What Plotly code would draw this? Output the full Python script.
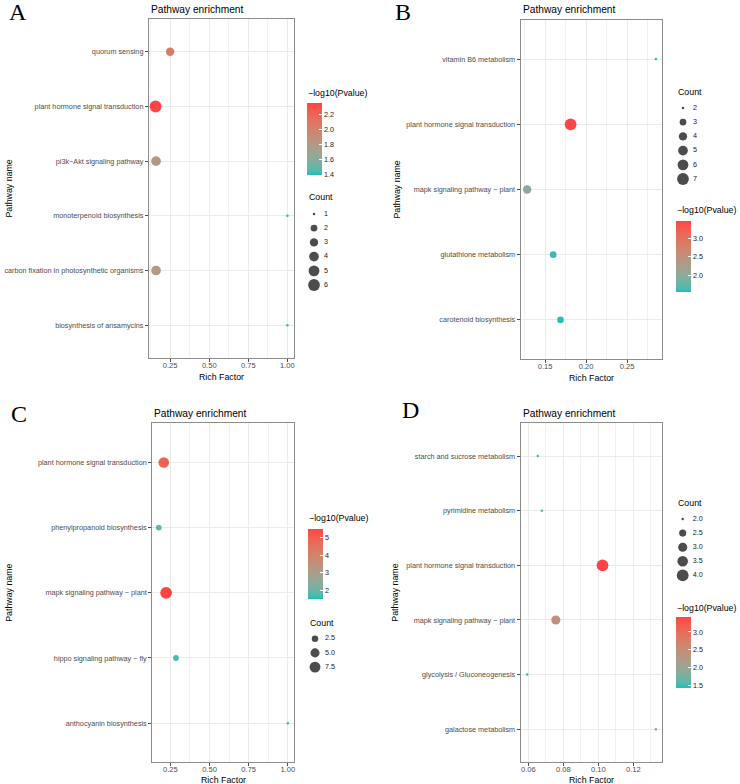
import numpy as np
import plotly.graph_objects as go

W, H = 740, 784

# ------------------------------------------------------------------ data
A_pathways = ["quorum sensing", "plant hormone signal transduction", "pi3k−Akt signaling pathway",
              "monoterpenoid biosynthesis", "carbon fixation in photosynthetic organisms",
              "biosynthesis of ansamycins"]
A_rich = [0.25, 0.157, 0.16, 1.0, 0.16, 1.0]
A_logp = [2.05, 2.36, 1.80, 1.39, 1.80, 1.39]
A_count = [3, 6, 4, 1, 4, 1]
A_count_breaks = [1, 2, 3, 4, 5, 6]
A_color_ticks = [1.4, 1.6, 1.8, 2.0, 2.2]

B_pathways = ["vitamin B6 metabolism", "plant hormone signal transduction",
              "mapk signaling pathway − plant", "glutathione metabolism", "carotenoid biosynthesis"]
B_rich = [0.285, 0.181, 0.128, 0.1598, 0.1687]
B_logp = [1.55, 3.50, 2.00, 1.60, 1.58]
B_count = [2, 7, 4, 3, 3]
B_count_breaks = [2, 3, 4, 5, 6, 7]
B_color_ticks = [2.0, 2.5, 3.0]

C_pathways = ["plant hormone signal transduction", "phenylpropanoid biosynthesis",
              "mapk signaling pathway − plant", "hippo signaling pathway − fly",
              "anthocyanin biosynthesis"]
C_rich = [0.208, 0.176, 0.223, 0.286, 1.0]
C_logp = [4.85, 1.95, 5.46, 1.75, 1.54]
C_count = [7, 2, 9, 2, 1]
C_count_breaks = [2.5, 5.0, 7.5]
C_color_ticks = [2, 3, 4, 5]

D_pathways = ["starch and sucrose metabolism", "pyrimidine metabolism",
              "plant hormone signal transduction", "mapk signaling pathway − plant",
              "glycolysis / Gluconeogenesis", "galactose metabolism"]
D_rich = [0.0654, 0.0677, 0.1024, 0.0757, 0.0593, 0.1329]
D_logp = [1.50, 1.55, 3.43, 2.45, 1.43, 2.30]
D_count = [2, 2, 4, 3, 2, 2]
D_count_breaks = [2.0, 2.5, 3.0, 3.5, 4.0]
D_color_ticks = [1.5, 2.0, 2.5, 3.0]

PANEL_LETTERS = ["A", "B", "C", "D"]
TITLE = "Pathway enrichment"
X_TITLE = "Rich Factor"
Y_TITLE = "Pathway name"
COLOR_TITLE = "−log10(Pvalue)"
SIZE_TITLE = "Count"

# ------------------------------------------------------------------ style
LOW, HIGH = (30, 191, 180), (255, 68, 68)
GRID, GRID_MINOR = "#EBEBEB", "#F1F1F1"
BORDER, TICK, TXT = "#8C8C8C", "#4D4D4D", "#4D4D4D"
FONT = "Liberation Sans, Arial, sans-serif"
DMIN, DMAX = 2.5, 11.8
TICK_SIZE = 7.25


def _lin(c):
    c = np.asarray(c, float) / 255
    return np.where(c <= 0.04045, c / 12.92, ((c + 0.055) / 1.055) ** 2.4)


def _srgb(c):
    c = np.clip(c, 0, 1)
    return np.where(c <= 0.0031308, 12.92 * c, 1.055 * c ** (1 / 2.4) - 0.055) * 255


M = np.array([[0.4124564, 0.3575761, 0.1804375],
              [0.2126729, 0.7151522, 0.0721750],
              [0.0193339, 0.1191920, 0.9503041]])
WHITE = M @ np.ones(3)
_d = 6 / 29


def _f(t):
    return np.where(t > _d ** 3, np.cbrt(t), t / (3 * _d * _d) + 4 / 29)


def _finv(t):
    return np.where(t > _d, t ** 3, 3 * _d * _d * (t - 4 / 29))


def rgb2lab(rgb):
    fx, fy, fz = _f(M @ _lin(rgb) / WHITE)
    return np.array([116 * fy - 16, 500 * (fx - fy), 200 * (fy - fz)])


def lab2rgb(lab):
    L, a, b = lab
    fy = (L + 16) / 116
    xyz = _finv(np.array([fy + a / 500, fy, fy - b / 200])) * WHITE
    return _srgb(np.linalg.solve(M, xyz))


lab_lo, lab_hi = rgb2lab(LOW), rgb2lab(HIGH)
CSCALE = []
for t in np.linspace(0, 1, 21):
    r, g, b = lab2rgb(lab_lo + (lab_hi - lab_lo) * t)
    CSCALE.append([float(t), f"rgb({int(round(r))},{int(round(g))},{int(round(b))})"])


def diam(vals, cmin, cmax):
    v = np.asarray(vals, float)
    return list(DMIN + (DMAX - DMIN) * np.sqrt(np.clip((v - cmin) / (cmax - cmin), 0, 1)))


panels = [
    dict(path=A_pathways, x=A_rich, c=A_logp, n=A_count, breaks=A_count_breaks, cticks=A_color_ticks,
         cfmt=".1f", box=(149, 294, 19, 358), dtick=0.25, letter=(7, 12), title_y=9.5, xtitle_y=376.5,
         ytitle_x=9, cb=(307, 103, 175, 93), leg=(307, 197, 214, 14.2, 314)),
    dict(path=B_pathways, x=B_rich, c=B_logp, n=B_count, breaks=B_count_breaks, cticks=B_color_ticks,
         cfmt=".1f", box=(520.7, 662.3, 20, 359), dtick=0.05, letter=(393, 12), title_y=9.5, xtitle_y=377.5,
         ytitle_x=396, cb=(676, 220.5, 291, 210), leg=(676, 92, 108, 14.2, 683)),
    dict(path=C_pathways, x=C_rich, c=C_logp, n=C_count, breaks=C_count_breaks, cticks=C_color_ticks,
         cfmt="d", box=(152.3, 294.3, 423.3, 762.3), dtick=0.25, letter=(9, 414), title_y=413, xtitle_y=779.5,
         ytitle_x=9, cb=(308.3, 529, 599.3, 518), leg=(308.3, 623.3, 638.7, 14.2, 315)),
    dict(path=D_pathways, x=D_rich, c=D_logp, n=D_count, breaks=D_count_breaks, cticks=D_color_ticks,
         cfmt=".1f", box=(520.7, 662.3, 423.3, 762), dtick=0.02, letter=(400, 410), title_y=413, xtitle_y=779.5,
         ytitle_x=395, cb=(676, 616.7, 687.3, 607.7), leg=(676, 503.3, 519, 14.1, 682.7)),
]

fig = go.Figure()
layout = dict(width=W, height=H, margin=dict(l=0, r=0, t=0, b=0), paper_bgcolor="white",
              plot_bgcolor="white", showlegend=False, font=dict(family=FONT, color="black"))
annotations = []


def ann(text, px, py, size, xanchor="left", color="black", family=FONT, angle=0):
    annotations.append(dict(text=text, x=px / W, y=1 - py / H, xref="paper", yref="paper",
                            xanchor=xanchor, yanchor="middle", showarrow=False, textangle=angle,
                            font=dict(size=size, color=color, family=family)))


for i, p in enumerate(panels, start=1):
    x0, x1, y0, y1 = p["box"]
    n = len(p["path"])
    xs = np.asarray(p["x"], float)
    span = xs.max() - xs.min()
    xr = [xs.min() - 0.05 * span, xs.max() + 0.05 * span]
    ca = "coloraxis" if i == 1 else f"coloraxis{i}"
    cmin, cmax = min(p["n"]), max(p["n"])

    fig.add_trace(go.Scatter(
        x=p["x"], y=p["path"], mode="markers", xaxis=f"x{i}", yaxis=f"y{i}",
        marker=dict(color=p["c"], coloraxis=ca, size=diam(p["n"], cmin, cmax), line=dict(width=0), opacity=1),
        hovertemplate="%{y}<br>Rich Factor=%{x}<extra></extra>"))

    sfx = "" if i == 1 else str(i)
    layout[f"xaxis{sfx}"] = dict(
        domain=[x0 / W, x1 / W], range=xr, anchor=f"y{i}", showline=True, mirror=True,
        linecolor=BORDER, linewidth=1.2, showgrid=True, gridcolor=GRID, gridwidth=1, zeroline=False,
        ticks="outside", ticklen=3, tickcolor=TICK, tickwidth=1, tick0=0, dtick=p["dtick"],
        tickformat=".2f", tickfont=dict(size=TICK_SIZE + 0.3, color=TXT, family=FONT), ticklabelstandoff=-3,
        minor=dict(tick0=0, dtick=p["dtick"] / 2, showgrid=True, gridcolor=GRID_MINOR, gridwidth=0.7, ticks=""))
    layout[f"yaxis{sfx}"] = dict(
        domain=[1 - y1 / H, 1 - y0 / H], type="category", categoryorder="array", categoryarray=p["path"],
        range=[n - 1 + 0.6, -0.6], anchor=f"x{i}", showline=True, mirror=True, linecolor=BORDER,
        linewidth=1.2, showgrid=True, gridcolor=GRID, gridwidth=1, zeroline=False, ticks="outside",
        ticklen=3, tickcolor=TICK, tickwidth=1, tickfont=dict(size=TICK_SIZE, color=TXT, family=FONT))

    cbx, cbt, cbb, cbty = p["cb"]
    layout[ca] = dict(colorscale=CSCALE, colorbar=dict(
        x=cbx / W, xanchor="left", y=1 - cbt / H, yanchor="top", len=cbb - cbt, lenmode="pixels",
        thickness=14.5, thicknessmode="pixels", xpad=0, ypad=0, outlinewidth=0, ticks="inside",
        ticklen=3, tickcolor="white", tickwidth=1, tickvals=p["cticks"], tickformat=p["cfmt"],
        tickfont=dict(size=7.2, color="#1A1A1A", family=FONT)))
    ann(COLOR_TITLE, cbx - 1, cbty, 8.8)

    # size legend in its own small axis
    lx, lty, lfirst, lstep, dotx = p["leg"]
    ann(SIZE_TITLE, lx, lty, 8.8)
    k = i + 4
    nb = len(p["breaks"])
    idx = list(range(nb))
    fig.add_trace(go.Scatter(
        x=[0] * nb, y=idx, mode="markers", xaxis=f"x{k}", yaxis=f"y{k}", hoverinfo="skip",
        marker=dict(color="black", size=diam(p["breaks"], cmin, cmax), line=dict(width=0))))
    is_int = all(float(b).is_integer() for b in p["breaks"])
    labels = [f"{int(b)}" if is_int else f"{b:.1f}" for b in p["breaks"]]
    fig.add_trace(go.Scatter(
        x=[10] * nb, y=idx, mode="text", text=labels, textposition="middle right", hoverinfo="skip",
        xaxis=f"x{k}", yaxis=f"y{k}", textfont=dict(size=7.2, color="#1A1A1A", family=FONT)))
    layout[f"xaxis{k}"] = dict(domain=[(dotx - 10) / W, (dotx + 40) / W], range=[-10, 40],
                               anchor=f"y{k}", visible=False, fixedrange=True)
    layout[f"yaxis{k}"] = dict(domain=[1 - (lfirst + (nb - 0.5) * lstep) / H, 1 - (lfirst - 0.5 * lstep) / H],
                               range=[nb - 0.5, -0.5], anchor=f"x{k}", visible=False, fixedrange=True)

    # texts
    ann(TITLE, x0, p["title_y"], 10.2)
    ann(X_TITLE, (x0 + x1) / 2, p["xtitle_y"], 8.8, xanchor="center")
    ann(Y_TITLE, p["ytitle_x"], (y0 + y1) / 2, 8.8, xanchor="center", angle=-90)
    ann(PANEL_LETTERS[i - 1], p["letter"][0], p["letter"][1], 24,
        family="Liberation Serif, Times New Roman, serif")

layout["annotations"] = annotations
fig.update_layout(**layout)
fig.write_html("out.html")
